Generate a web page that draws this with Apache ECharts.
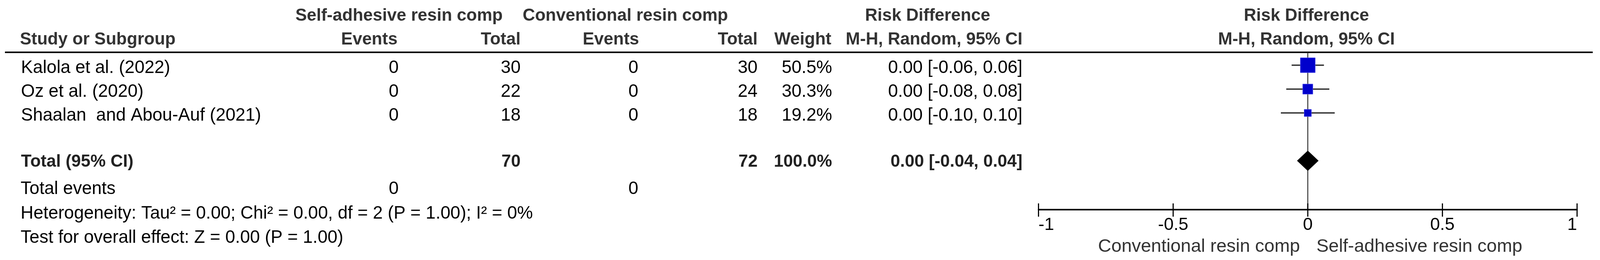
<!DOCTYPE html>
<html><head><meta charset="utf-8">
<script src="https://cdn.jsdelivr.net/npm/echarts@6/dist/echarts.min.js"></script>
<style>html,body{margin:0;padding:0;background:#fff;overflow:hidden}#c{width:100vw;height:100vh}</style>
</head><body><div id="c"></div>
<script>
// ---- data ----
const studies = ['Kalola et al. (2022)', 'Oz et al. (2020)', 'Shaalan  and Abou-Auf (2021)'];
const expEvents = [0, 0, 0];
const expTotal = [30, 22, 18];
const ctrlEvents = [0, 0, 0];
const ctrlTotal = [30, 24, 18];
const weights = [50.5, 30.3, 19.2];
const rdValues = [0.00, 0.00, 0.00];
const ciLow = [-0.06, -0.08, -0.10];
const ciHigh = [0.06, 0.08, 0.10];
const rowPos = [1, 2, 3];
const totalLabel = 'Total (95% CI)';
const totalExp = [70];
const totalCtrl = [72];
const totalWeight = [100.0];
const totalRD = [0.00];
const totalLow = [-0.04];
const totalHigh = [0.04];
const totalRow = [5];
const totalEventsExp = [0];
const totalEventsCtrl = [0];
const heterogeneityText = 'Heterogeneity: Tau\u00b2 = 0.00; Chi\u00b2 = 0.00, df = 2 (P = 1.00); I\u00b2 = 0%';
const overallText = 'Test for overall effect: Z = 0.00 (P = 1.00)';
const xTicks = [-1, -0.5, 0, 0.5, 1];
const xTickLabels = ['-1', '-0.5', '0', '0.5', '1'];
const groupExp = 'Self-adhesive resin comp';
const groupCtrl = 'Conventional resin comp';

// ---- layout / style (designed for 4186 x 666, scaled to actual viewport) ----
const VW = window.innerWidth || 4186, VH = window.innerHeight || 666;
const SX = VW / 4186, SY = VH / 666, SF = Math.min(SX, SY);
const X = v => v * SX, Y = v => v * SY, F = v => v * SF;
const FAM = '"Liberation Sans", Arial, sans-serif';
const BOLD = 'bold ' + F(45) + 'px ' + FAM;
const REG = F(46.5) + 'px ' + FAM;
const DIR = F(48) + 'px ' + FAM;
const COL = {name: 55, ev1: 1043, tot1: 1362, ev2: 1670, tot2: 1982, wt: 2177, ci: 2675};
const TXT_OFF = 7;
const TOTAL_OFF = 3;
const Y_MIN = 0.46, Y_MAX = 7.05;

function fmtCI(e, l, h) { return e.toFixed(2) + ' [' + l.toFixed(2) + ', ' + h.toFixed(2) + ']'; }
function txt(text, x, y, font, fill, align) {
  return {type: 'text', style: {text: text, x: x, y: y, font: font, fill: fill,
    align: align, textAlign: align, verticalAlign: 'middle', textVerticalAlign: 'middle'}};
}

const chart = echarts.init(document.getElementById('c'), null, {renderer: 'canvas'});

const studyTableData = rowPos.map((r, i) => [0, r]);
const ciData = rowPos.map((r, i) => [ciLow[i], ciHigh[i], r]);
const sqData = rowPos.map((r, i) => [rdValues[i], r, weights[i]]);
const diamondData = [[totalRD[0], totalLow[0], totalHigh[0], totalRow[0]]];
const tickData = xTicks.map(v => [v, Y_MAX]);

const graphics = [
  {type: 'line', shape: {x1: X(13), y1: Y(134), x2: X(4167), y2: Y(134)}, style: {stroke: '#000', lineWidth: F(4)}},
  txt(groupExp, X(1044), Y(41), BOLD, '#333', 'center'),
  txt(groupCtrl, X(1636), Y(41), BOLD, '#333', 'center'),
  txt('Risk Difference', X(2427), Y(41), BOLD, '#333', 'center'),
  txt('Risk Difference', X(3418), Y(41), BOLD, '#333', 'center'),
  txt('Study or Subgroup', X(52), Y(102), BOLD, '#333', 'left'),
  txt('Events', X(1040), Y(102), BOLD, '#333', 'right'),
  txt('Total', X(1362), Y(102), BOLD, '#333', 'right'),
  txt('Events', X(1672), Y(102), BOLD, '#333', 'right'),
  txt('Total', X(1982), Y(102), BOLD, '#333', 'right'),
  txt('Weight', X(2175), Y(102), BOLD, '#333', 'right'),
  txt('M-H, Random, 95% CI', X(2675), Y(102), BOLD, '#333', 'right'),
  txt('M-H, Random, 95% CI', X(3418), Y(102), BOLD, '#333', 'center'),
  txt('Total events', X(54), Y(484), REG, '#000', 'left'),
  txt(String(totalEventsExp[0]), X(COL.ev1), Y(484), REG, '#000', 'right'),
  txt(String(totalEventsCtrl[0]), X(COL.ev2), Y(484), REG, '#000', 'right'),
  txt(heterogeneityText, X(54), Y(547), REG, '#000', 'left'),
  txt(overallText, X(54), Y(609), REG, '#000', 'left'),
  txt(groupCtrl, X(3401), Y(632), DIR, '#333', 'right'),
  txt(groupExp, X(3444), Y(632), DIR, '#333', 'left')
];

const option = {
  animation: false,
  backgroundColor: '#fff',
  grid: {left: X(2717), right: X(60), top: Y(134), height: Y(403), containLabel: false},
  xAxis: {
    type: 'value', min: -1, max: 1, interval: 0.5,
    axisLine: {show: true, lineStyle: {color: '#000', width: F(4)}},
    axisTick: {show: false},
    splitLine: {show: false},
    axisLabel: {
      show: true, margin: Y(17), color: '#000', fontSize: F(46), fontFamily: FAM,
      alignMinLabel: 'left', alignMaxLabel: 'right',
      formatter: function (v) { const k = xTicks.indexOf(v); return k >= 0 ? xTickLabels[k] : ''; }
    }
  },
  yAxis: {type: 'value', min: Y_MIN, max: Y_MAX, inverse: true, show: false,
    axisLine: {show: false}, splitLine: {show: false}},
  series: [
    {
      type: 'custom', data: [[0, Y_MIN, Y_MAX]], encode: {x: 0, y: [1, 2]}, z: 2,
      renderItem: function (p, api) {
        const a = api.coord([api.value(0), api.value(1)]);
        const b = api.coord([api.value(0), api.value(2)]);
        return {type: 'line', shape: {x1: a[0], y1: a[1], x2: b[0], y2: b[1]}, style: {stroke: '#333', lineWidth: F(2.5)}};
      }
    },
    {
      type: 'custom', data: tickData, encode: {x: 0, y: 1}, z: 3,
      renderItem: function (p, api) {
        const a = api.coord([api.value(0), api.value(1)]);
        return {type: 'line', shape: {x1: a[0], y1: a[1] - Y(16), x2: a[0], y2: a[1] + Y(18)}, style: {stroke: '#000', lineWidth: F(3)}};
      }
    },
    {
      type: 'custom', data: ciData, encode: {x: [0, 1], y: 2}, z: 4,
      renderItem: function (p, api) {
        const a = api.coord([api.value(0), api.value(2)]);
        const b = api.coord([api.value(1), api.value(2)]);
        return {type: 'line', shape: {x1: a[0], y1: a[1], x2: b[0], y2: b[1]}, style: {stroke: '#333', lineWidth: F(3.5)}};
      }
    },
    {
      type: 'custom', data: sqData, encode: {x: 0, y: 1}, z: 5,
      renderItem: function (p, api) {
        const c = api.coord([api.value(0), api.value(1)]);
        const s = F(39) * Math.pow(api.value(2) / 50.5, 0.75);
        return {type: 'rect', shape: {x: c[0] - s / 2, y: c[1] - s / 2, width: s, height: s},
          style: {fill: '#0000CC', stroke: '#5a5af0', lineWidth: F(1)}};
      }
    },
    {
      type: 'custom', data: diamondData, encode: {x: [1, 2], y: 3}, z: 5,
      renderItem: function (p, api) {
        const y = api.value(3);
        const l = api.coord([api.value(1), y]);
        const r = api.coord([api.value(2), y]);
        const m = api.coord([api.value(0), y]);
        const h = Y(26);
        return {type: 'polygon', shape: {points: [[l[0], m[1]], [m[0], m[1] - h], [r[0], m[1]], [m[0], m[1] + h]]},
          style: {fill: '#000'}};
      }
    },
    {
      type: 'custom', data: studyTableData, encode: {x: 0, y: 1}, z: 6,
      renderItem: function (p, api) {
        const i = p.dataIndex;
        const y = api.coord([0, api.value(1)])[1] + Y(TXT_OFF);
        const cells = [
          [studies[i], COL.name, 'left'],
          [String(expEvents[i]), COL.ev1, 'right'],
          [String(expTotal[i]), COL.tot1, 'right'],
          [String(ctrlEvents[i]), COL.ev2, 'right'],
          [String(ctrlTotal[i]), COL.tot2, 'right'],
          [weights[i].toFixed(1) + '%', COL.wt, 'right'],
          [fmtCI(rdValues[i], ciLow[i], ciHigh[i]), COL.ci, 'right']
        ];
        return {type: 'group', children: cells.map(c => txt(c[0], X(c[1]), y, REG, '#000', c[2]))};
      }
    },
    {
      type: 'custom', data: [[0, totalRow[0]]], encode: {x: 0, y: 1}, z: 6,
      renderItem: function (p, api) {
        const y = api.coord([0, api.value(1)])[1] + Y(TOTAL_OFF);
        const cells = [
          [totalLabel, COL.name, 'left'],
          [String(totalExp[0]), COL.tot1, 'right'],
          [String(totalCtrl[0]), COL.tot2, 'right'],
          [totalWeight[0].toFixed(1) + '%', COL.wt, 'right'],
          [fmtCI(totalRD[0], totalLow[0], totalHigh[0]), COL.ci, 'right']
        ];
        return {type: 'group', children: cells.map(c => txt(c[0], X(c[1]), y, BOLD, '#222', c[2]))};
      }
    }
  ],
  graphic: graphics
};
chart.setOption(option);
</script>
</body></html>
